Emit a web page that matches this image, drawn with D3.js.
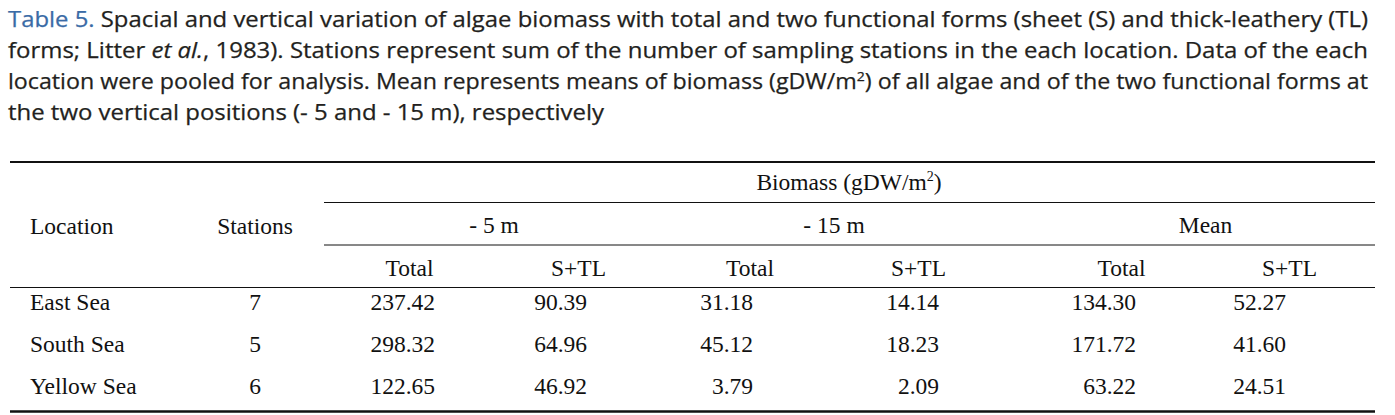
<!DOCTYPE html>
<html>
<head>
<meta charset="utf-8">
<script src="https://cdn.jsdelivr.net/npm/d3@7"></script>
<style>
  html, body { margin: 0; padding: 0; background: #fff; }
  svg { display: block; }
  .cap { font-family: "Open Sans", sans-serif; font-size: 21.5px; fill: #231f20; stroke: #231f20; stroke-width: 0.25px; }
  .tbl { font-family: "Liberation Serif", "Times New Roman", serif; font-size: 23.5px; fill: #111; }
</style>
</head>
<body>
<div id="chart"></div>
<script>
// table contents
const locations = ["East Sea", "South Sea", "Yellow Sea"];
const stations = [7, 5, 6];
const total5 = ["237.42", "298.32", "122.65"];
const stl5 = ["90.39", "64.96", "46.92"];
const total15 = ["31.18", "45.12", "3.79"];
const stl15 = ["14.14", "18.23", "2.09"];
const totalMean = ["134.30", "171.72", "63.22"];
const stlMean = ["52.27", "41.60", "24.51"];
const depthLabels = ["- 5 m", "- 15 m", "Mean"];
const subLabels = ["Total", "S+TL", "Total", "S+TL", "Total", "S+TL"];

const captionLines = [
  [{t: "Table 5.", c: "#3a6ba6"}, {t: " Spacial and vertical variation of algae biomass with total and two functional forms (sheet (S) and thick-leathery (TL)"}],
  [{t: "forms; Litter "}, {t: "et al.", i: true}, {t: ", 1983). Stations represent sum of the number of sampling stations in the each location. Data of the each"}],
  [{t: "location were pooled for analysis. Mean represents means of biomass (gDW/m"}, {t: "2", sup: true}, {t: ") of all algae and of the two functional forms at"}],
  [{t: "the two vertical positions (- 5 and - 15 m), respectively"}]
];
const captionWidths = [1360, 1360, 1360, 596];

const width = 1395, height = 415;
const svg = d3.select("#chart").append("svg")
  .attr("width", width).attr("height", height);

// caption
const capY = d3.scaleLinear().domain([0, 3]).range([26.5, 120]);
captionLines.forEach((line, li) => {
  const t = svg.append("text").attr("class", "cap")
    .attr("x", 8).attr("y", capY(li))
    .attr("textLength", captionWidths[li])
    .attr("lengthAdjust", "spacingAndGlyphs");
  line.forEach(p => {
    const s = t.append("tspan").text(p.t);
    if (p.c) s.attr("fill", p.c).attr("stroke", p.c);
    if (p.i) s.attr("font-style", "italic");
    if (p.sup) s.attr("font-size", "13px").attr("dy", -8);
    else if (li === 2 && p.t.startsWith(")")) s.attr("dy", 8);
  });
});

// table layout
const cols = ["t5", "s5", "t15", "s15", "tm", "sm"];
const numX = d3.scaleOrdinal().domain(cols).range([435, 587, 753, 939, 1136, 1286]);
const headX = d3.scaleOrdinal().domain(cols).range([409.5, 578.5, 750, 918.5, 1121.5, 1289.5]);
const groupX = d3.scaleOrdinal().domain(depthLabels).range([494, 834, 1205.5]);
const rowY = d3.scalePoint().domain(locations).range([309.5, 393.5]);
const series = { t5: total5, s5: stl5, t15: total15, s15: stl15, tm: totalMean, sm: stlMean };

const left = 10, right = 1375, groupLeft = 324;
const rules = [
  {y: 162, x1: left, x2: right, w: 2.2},
  {y: 202.5, x1: groupLeft, x2: right, w: 1},
  {y: 245, x1: groupLeft, x2: right, w: 1},
  {y: 287.5, x1: left, x2: right, w: 1.2},
  {y: 411.5, x1: left, x2: right, w: 2.5}
];
svg.append("g").selectAll("line").data(rules).join("line")
  .attr("x1", d => d.x1).attr("x2", d => d.x2)
  .attr("y1", d => d.y).attr("y2", d => d.y)
  .attr("stroke", "#111").attr("stroke-width", d => d.w);

const tbl = svg.append("g").attr("class", "tbl");

// header
const bio = tbl.append("text").attr("x", 849).attr("y", 190).attr("text-anchor", "middle");
bio.append("tspan").text("Biomass (gDW/m");
bio.append("tspan").text("2").attr("font-size", "14px").attr("dy", -9);
bio.append("tspan").text(")").attr("dy", 9);

tbl.append("text").attr("x", 30).attr("y", 233.5).text("Location");
tbl.append("text").attr("x", 255).attr("y", 233.5).attr("text-anchor", "middle").text("Stations");

tbl.selectAll("text.grp").data(depthLabels).join("text").attr("class", "grp")
  .attr("x", d => groupX(d)).attr("y", 233).attr("text-anchor", "middle").text(d => d);

tbl.selectAll("text.sub").data(cols).join("text").attr("class", "sub")
  .attr("x", d => headX(d)).attr("y", 276).attr("text-anchor", "middle")
  .text((d, i) => subLabels[i]);

// body
tbl.selectAll("text.loc").data(locations).join("text").attr("class", "loc")
  .attr("x", 30).attr("y", d => rowY(d)).text(d => d);

tbl.selectAll("text.st").data(stations).join("text").attr("class", "st")
  .attr("x", 255).attr("y", (d, i) => rowY(locations[i])).attr("text-anchor", "middle").text(d => d);

cols.forEach(c => {
  tbl.selectAll("text.v-" + c).data(series[c]).join("text").attr("class", "v-" + c)
    .attr("x", numX(c)).attr("y", (d, i) => rowY(locations[i]))
    .attr("text-anchor", "end").text(d => d);
});
</script>
</body>
</html>
